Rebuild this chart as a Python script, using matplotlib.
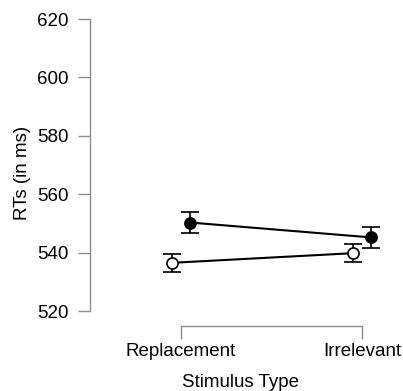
import matplotlib
matplotlib.use("Agg")
import matplotlib.pyplot as plt
import numpy as np

plt.rcParams['font.family'] = ['Liberation Sans', 'DejaVu Sans']

categories = ["Replacement", "Irrelevant"]
filled_means = [550.3, 545.2]
filled_err = [3.5, 3.5]
open_means = [536.5, 539.8]
open_err = [3.0, 3.0]
yticks = [520, 540, 560, 580, 600, 620]

fig = plt.figure(figsize=(4.03, 3.91), dpi=100)
ax = fig.add_axes([90/403, 65/391, 300/403, 307/391])

x = np.arange(len(categories))
dodge = 0.05
ax.errorbar(x - dodge, open_means, yerr=open_err, color='black', lw=1.5,
            marker='o', markersize=8, markerfacecolor='white', markeredgecolor='black',
            markeredgewidth=1.2, capsize=6.5, capthick=1.2, elinewidth=1.2, zorder=3)
ax.errorbar(x + dodge, filled_means, yerr=filled_err, color='black', lw=1.5,
            marker='o', markersize=8, markerfacecolor='black', markeredgecolor='black',
            markeredgewidth=1.2, capsize=6.5, capthick=1.2, elinewidth=1.2, zorder=3)

ax.set_xlim(-91/181, 1 + 28/181)
ax.set_ylim(520 - 15/2.92, 620)
ax.set_xticks(x)
ax.set_xticklabels(categories)
ax.set_yticks(yticks)

for s in ['top', 'right']:
    ax.spines[s].set_visible(False)
for s in ['left', 'bottom']:
    ax.spines[s].set_color('#8c8c8c')
    ax.spines[s].set_linewidth(1.0)
ax.spines['left'].set_bounds(520, 620)
ax.spines['bottom'].set_bounds(0, 1)
ax.tick_params(axis='both', colors='#8c8c8c', length=9, width=1.0, labelsize=13.5,
               labelcolor='black')
ax.tick_params(axis='x', pad=3.5)
ax.tick_params(axis='y', pad=6.5)

ax.set_xlabel("Stimulus Type", fontsize=13.5, labelpad=10)
ax.set_ylabel("RTs (in ms)", fontsize=13.5, labelpad=4)
ax.patch.set_alpha(0)

fig.savefig("out.png", dpi=100)
